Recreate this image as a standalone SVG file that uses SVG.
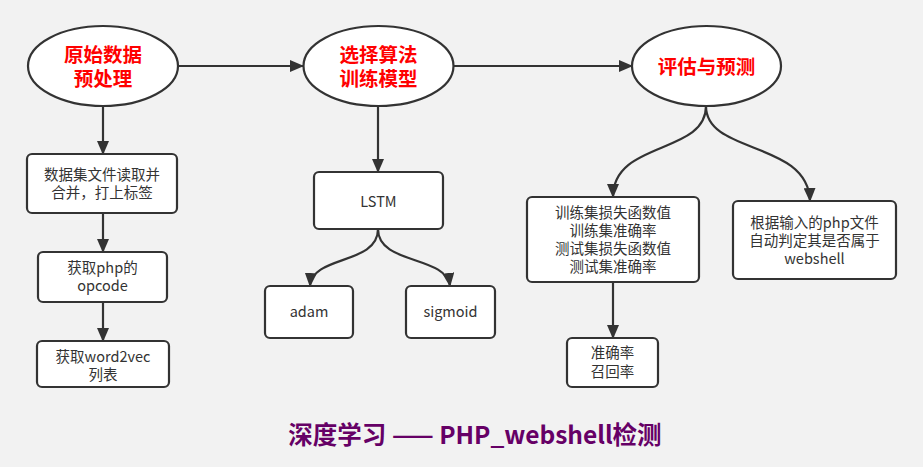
<svg xmlns="http://www.w3.org/2000/svg" width="923" height="467" viewBox="0 0 923 467">
<style>
.bg{fill:#f2f2f2}
.ell{fill:#fff;stroke:#333;stroke-width:2.2}
.box{fill:#fff;stroke:#333;stroke-width:2.2}
.et{font-family:"Noto Sans CJK SC","Microsoft YaHei",sans-serif;font-size:19.5px;font-weight:bold;fill:#ff0000;text-anchor:middle}
.bt{font-family:"Noto Sans CJK SC","Microsoft YaHei",sans-serif;font-size:14.5px;fill:#333;text-anchor:middle}
.con{fill:none;stroke:#333;stroke-width:2.2}
.title{font-family:"Noto Sans CJK SC","Microsoft YaHei",sans-serif;font-size:24.5px;font-weight:bold;fill:#660066;text-anchor:middle}
</style>
<defs>
<marker id="arr" markerUnits="userSpaceOnUse" markerWidth="14" markerHeight="12" refX="13" refY="6" orient="auto">
<path d="M0,0 L14,6 L0,12 z" fill="#333"/>
</marker>
</defs>
<rect class="bg" x="0" y="0" width="923" height="467"/>
<g id="connectors">
<path class="con" d="M178,66 L303,66" marker-end="url(#arr)"/>
<path class="con" d="M454,66 L632,66" marker-end="url(#arr)"/>
<path class="con" d="M103,106 L103,154" marker-end="url(#arr)"/>
<path class="con" d="M103,213 L103,252" marker-end="url(#arr)"/>
<path class="con" d="M103,302 L103,341" marker-end="url(#arr)"/>
<path class="con" d="M378,106 L378,172" marker-end="url(#arr)"/>
<path class="con" d="M378,229 C378,265 312,255 310,286" marker-end="url(#arr)"/>
<path class="con" d="M378,229 C378,265 446,255 450,286" marker-end="url(#arr)"/>
<path class="con" d="M706,106 C706,155 613,140 613,197" marker-end="url(#arr)"/>
<path class="con" d="M706,106 C706,155 808,140 810,201" marker-end="url(#arr)"/>
<path class="con" d="M613,282 L613,338" marker-end="url(#arr)"/>
</g>
<g id="n1"><ellipse class="ell" cx="103" cy="66" rx="75" ry="40"/><text class="et"><tspan x="103" y="62">原始数据</tspan><tspan x="103" y="86">预处理</tspan></text></g>
<g id="n2"><ellipse class="ell" cx="378.5" cy="66" rx="75" ry="40"/><text class="et"><tspan x="378.5" y="62">选择算法</tspan><tspan x="378.5" y="86">训练模型</tspan></text></g>
<g id="n3"><ellipse class="ell" cx="706.5" cy="66" rx="74.5" ry="40"/><text class="et" x="706.5" y="74">评估与预测</text></g>
<g id="n4"><rect class="box" x="27" y="154" width="150" height="59" rx="5"/><text class="bt"><tspan x="102" y="180">数据集文件读取并</tspan><tspan x="102" y="198">合并，打上标签</tspan></text></g>
<g id="n5"><rect class="box" x="38" y="252" width="129" height="50" rx="5"/><text class="bt"><tspan x="102.5" y="273">获取php的</tspan><tspan x="102.5" y="291">opcode</tspan></text></g>
<g id="n6"><rect class="box" x="37" y="341" width="132" height="46" rx="5"/><text class="bt"><tspan x="103" y="362">获取word2vec</tspan><tspan x="103" y="380">列表</tspan></text></g>
<g id="n7"><rect class="box" x="314" y="172" width="129" height="57" rx="5"/><text class="bt" x="378.5" y="207">LSTM</text></g>
<g id="n8"><rect class="box" x="265" y="286" width="88" height="52" rx="5"/><text class="bt" x="309" y="317">adam</text></g>
<g id="n9"><rect class="box" x="406" y="286" width="89" height="52" rx="5"/><text class="bt" x="450.5" y="317">sigmoid</text></g>
<g id="n10"><rect class="box" x="527" y="197" width="172" height="85" rx="5"/><text class="bt"><tspan x="613" y="218">训练集损失函数值</tspan><tspan x="613" y="236">训练集准确率</tspan><tspan x="613" y="254">测试集损失函数值</tspan><tspan x="613" y="272">测试集准确率</tspan></text></g>
<g id="n11"><rect class="box" x="567" y="338" width="91" height="49" rx="5"/><text class="bt"><tspan x="612.5" y="358">准确率</tspan><tspan x="612.5" y="377">召回率</tspan></text></g>
<g id="n12"><rect class="box" x="733" y="201" width="163" height="78" rx="5"/><text class="bt"><tspan x="814.5" y="228">根据输入的php文件</tspan><tspan x="814.5" y="246">自动判定其是否属于</tspan><tspan x="814.5" y="264">webshell</tspan></text></g>
<text class="title" x="475" y="444">深度学习 —— PHP_webshell检测</text>
</svg>
